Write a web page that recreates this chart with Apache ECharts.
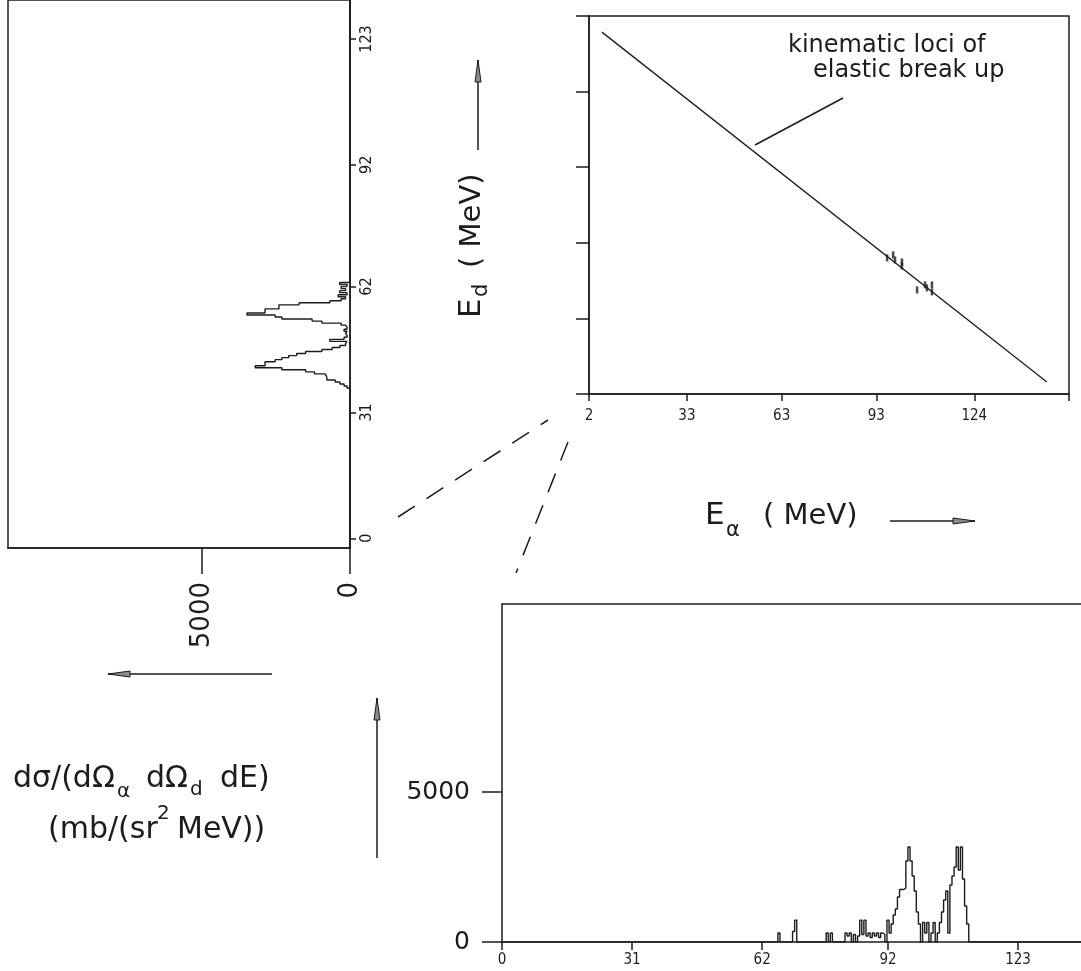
<!DOCTYPE html>
<html>
<head>
<meta charset="utf-8">
<script src="https://cdn.jsdelivr.net/npm/echarts@6/dist/echarts.min.js"></script>
<style>
  html, body { margin: 0; padding: 0; background: #fff; }
  #main { width: 1081px; height: 971px; }
</style>
</head>
<body>
<div id="main"></div>
<script>
// E_d projection (top left, drawn sideways): bin start (MeV) and yield
var edBinStart = [-2.4, 37.0, 37.5, 38.0, 38.5, 39.0, 39.5, 40.0, 40.5, 41.0,
  41.5, 42.0, 42.5, 43.0, 43.5, 44.0, 44.5, 45.0, 45.5, 46.0,
  46.5, 47.0, 47.5, 48.0, 48.5, 49.0, 49.5, 50.0, 50.5, 51.0,
  51.5, 52.0, 52.5, 53.0, 53.5, 54.0, 54.5, 55.0, 55.5, 56.0,
  56.5, 57.0, 57.5, 58.0, 58.5, 59.0, 59.5, 60.0, 60.5, 61.0,
  61.5, 62.0, 62.5, 63.0, 132.6];
var edYield = [0, 100, 200, 340, 500, 780, 800, 840, 1200, 1500,
  2300, 3200, 2870, 2870, 2530, 2300, 2070, 1800, 1500, 950,
  600, 340, 150, 100, 680, 200, 100, 150, 100, 200,
  100, 150, 300, 950, 1280, 2300, 2530, 3480, 2870, 2870,
  2400, 2400, 1720, 680, 300, 150, 400, 100, 350, 150,
  300, 100, 350, 0, 0];

// E_alpha projection (bottom): bin start (MeV) and yield
var alphaBinStart = [0, 65.75, 66.25, 69.25, 69.75, 70.25, 77.25, 77.75, 78.25, 78.75,
  81.75, 82.25, 82.75, 83.25, 83.75, 84.25, 84.75, 85.25, 85.75, 86.25,
  86.75, 87.25, 87.75, 88.25, 88.75, 89.25, 89.75, 90.25, 90.75, 91.25,
  91.75, 92.25, 92.75, 93.25, 93.75, 94.25, 94.75, 95.25, 95.75, 96.25,
  96.75, 97.25, 97.75, 98.25, 98.75, 99.25, 99.75, 100.25, 100.75, 101.25,
  101.75, 102.25, 102.75, 103.25, 103.75, 104.25, 104.75, 105.25, 105.75, 106.25,
  106.75, 107.25, 107.75, 108.25, 108.75, 109.25, 109.75, 110.25, 110.75, 111.25,
  138];
var alphaYield = [0, 300, 0, 350, 730, 0, 300, 0, 300, 0,
  300, 200, 300, 0, 250, 0, 200, 730, 250, 730,
  200, 300, 150, 300, 200, 300, 150, 300, 250, 0,
  730, 300, 600, 900, 1100, 1500, 1750, 1750, 1800, 2700,
  3170, 2700, 2200, 1700, 1000, 600, 0, 650, 300, 650,
  0, 300, 650, 0, 300, 650, 1000, 1400, 1700, 300,
  1900, 2200, 2500, 3170, 2400, 3170, 2100, 1200, 600, 0,
  0];

// E_alpha - E_d plane (top right)
var locusEa = [6.1, 147.0];
var locusEd = [143.6, 4.8];
var coincEa = [96.4, 98.3, 98.9, 101.1, 101.1, 105.9, 108.4, 109.0, 110.6, 110.6];
var coincEd = [54.0, 55.2, 53.2, 52.4, 50.8, 41.3, 43.3, 42.1, 43.3, 40.5];

// tick labels
var edTicks = [0, 31, 62, 92, 123];
var sigmaTicks = [0, 5000];
var planeEaTicks = [2, 33, 63, 93, 124];
var planeEaTickMarks = [2, 33, 63, 93, 124, 154];
var alphaTicks = [0, 31, 62, 92, 123];

var ink = '#1c1c1c';
var font = 'DejaVu Sans';
var tickFont = "'DejaVu Sans Condensed', 'DejaVu Sans'";

// sideways step histogram for E_d
var edSteps = [];
for (var i = 0; i < edBinStart.length - 1; i++) {
  edSteps.push([edYield[i], edBinStart[i]]);
  edSteps.push([edYield[i], edBinStart[i + 1]]);
}
var alphaData = alphaBinStart.map(function (e, i) { return [e, alphaYield[i]]; });
var locusData = locusEa.map(function (e, i) { return [e, locusEd[i]]; });
var coincData = coincEa.map(function (e, i) { return [e, coincEd[i]]; });

function plain(v) { return String(v); }

function txt(x, y, s, size, align) {
  return { type: 'text', x: x, y: y, silent: true,
    style: { text: s, fontSize: size, fontFamily: font, fill: ink,
      align: align || 'left', verticalAlign: 'middle' } };
}
function seg(x1, y1, x2, y2, dash) {
  return { type: 'line', silent: true, shape: { x1: x1, y1: y1, x2: x2, y2: y2 },
    style: { stroke: ink, lineWidth: 1.5, lineDash: dash || null } };
}
function arrow(x1, y1, x2, y2) {
  var a = Math.atan2(y2 - y1, x2 - x1), L = 22, W = 3;
  var bx = x2 - L * Math.cos(a), by = y2 - L * Math.sin(a);
  var px = -Math.sin(a) * W, py = Math.cos(a) * W;
  return [seg(x1, y1, x2, y2), { type: 'polygon', silent: true,
    shape: { points: [[x2, y2], [bx + px, by + py], [bx - px, by - py]] },
    style: { fill: '#8a8a8a', stroke: ink, lineWidth: 1 } }];
}

var axLine = { show: true, onZero: false, lineStyle: { color: ink, width: 1.5 } };
var tickStyle = { color: ink, width: 1.5 };

var graphics = [
  // dashed guide lines
  seg(398, 517, 548, 420, [20, 14]),
  seg(568, 442, 516, 573, [20, 14]),
  // leader to the locus
  seg(755, 145, 843, 98),
  txt(788, 46, 'kinematic loci of', 24),
  txt(813, 71, 'elastic break up', 24),
  // E_d label (vertical)
  { type: 'group', x: 472, y: 318, rotation: Math.PI / 2, children: [
    txt(0, 0, 'E', 31),
    txt(21, 10, 'd', 21),
    txt(50, 0, '( MeV)', 29)
  ] },
  // E_alpha label
  txt(705, 516, 'E', 31),
  txt(726, 531, 'α', 21),
  txt(763, 516, '( MeV)', 29),
  // cross-section label
  txt(13, 779, 'dσ/(dΩ', 30),
  txt(117, 792, 'α', 20),
  txt(146, 779, 'dΩ', 30),
  txt(190, 790, 'd', 20),
  txt(220, 779, 'dE)', 30),
  txt(48, 830, '(mb/(sr', 30),
  txt(157, 814, '2', 20),
  txt(177, 830, 'MeV))', 30)
].concat(arrow(478, 150, 478, 60), arrow(890, 521, 975, 521),
  arrow(272, 674, 108, 674), arrow(377, 858, 377, 698));

var option = {
  animation: false,
  backgroundColor: '#fff',
  grid: [
    { left: 8, right: 731, top: -2, bottom: 423, show: true, borderColor: ink, borderWidth: 1.5 },
    { left: 589, right: 12, top: 16, bottom: 577, show: true, borderColor: ink, borderWidth: 1.5 },
    { left: 502, width: 580, top: 604, bottom: 29 }
  ],
  xAxis: [
    { gridIndex: 0, type: 'value', inverse: true, min: 0, max: 11550, position: 'bottom',
      axisLine: axLine, splitLine: { show: false },
      axisTick: { customValues: sigmaTicks, length: 26, lineStyle: tickStyle },
      axisLabel: { customValues: sigmaTicks, formatter: plain, rotate: 90, margin: 34,
        fontSize: 26, fontFamily: font, color: ink } },
    { gridIndex: 1, type: 'value', min: 2, max: 154, axisLine: axLine, splitLine: { show: false },
      axisTick: { customValues: planeEaTickMarks, length: 7, lineStyle: tickStyle },
      axisLabel: { customValues: planeEaTicks, formatter: plain, margin: 15, fontSize: 15,
        fontFamily: tickFont, color: ink } },
    { gridIndex: 2, type: 'value', min: 0, max: 138, axisLine: axLine, splitLine: { show: false },
      axisTick: { customValues: alphaTicks, length: 8, lineStyle: tickStyle },
      axisLabel: { customValues: alphaTicks, formatter: plain, margin: 11, fontSize: 15,
        fontFamily: tickFont, color: ink } },
    { gridIndex: 2, type: 'value', min: 0, max: 138, position: 'top', axisLine: axLine,
      axisTick: { show: false }, axisLabel: { show: false }, splitLine: { show: false } }
  ],
  yAxis: [
    { gridIndex: 0, type: 'value', min: -2.4, max: 132.6, position: 'right',
      axisLine: axLine, splitLine: { show: false },
      axisTick: { customValues: edTicks, length: 6, lineStyle: tickStyle },
      axisLabel: { customValues: edTicks, formatter: plain, rotate: 90, margin: 9,
        fontSize: 16, fontFamily: tickFont, color: ink } },
    { gridIndex: 1, type: 'value', min: 0, max: 150, interval: 30,
      axisLine: axLine, splitLine: { show: false },
      axisTick: { length: 13, lineStyle: tickStyle }, axisLabel: { show: false } },
    { gridIndex: 2, type: 'value', min: 0, max: 11270,
      axisLine: axLine, splitLine: { show: false },
      axisTick: { customValues: sigmaTicks, length: 20, lineStyle: tickStyle },
      axisLabel: { customValues: sigmaTicks, formatter: plain, margin: 32, fontSize: 25,
        fontFamily: font, color: ink } }
  ],
  series: [
    { type: 'line', xAxisIndex: 0, yAxisIndex: 0, data: edSteps, showSymbol: false,
      lineStyle: { color: ink, width: 1.4 } },
    { type: 'line', xAxisIndex: 1, yAxisIndex: 1, data: locusData, showSymbol: false,
      lineStyle: { color: ink, width: 1.3 } },
    { type: 'scatter', xAxisIndex: 1, yAxisIndex: 1, data: coincData,
      symbol: 'rect', symbolSize: [2.5, 7], itemStyle: { color: ink } },
    { type: 'line', xAxisIndex: 2, yAxisIndex: 2, data: alphaData, step: 'end',
      showSymbol: false, lineStyle: { color: ink, width: 1.4 } }
  ],
  graphic: graphics
};

echarts.init(document.getElementById('main')).setOption(option);
</script>
</body>
</html>
